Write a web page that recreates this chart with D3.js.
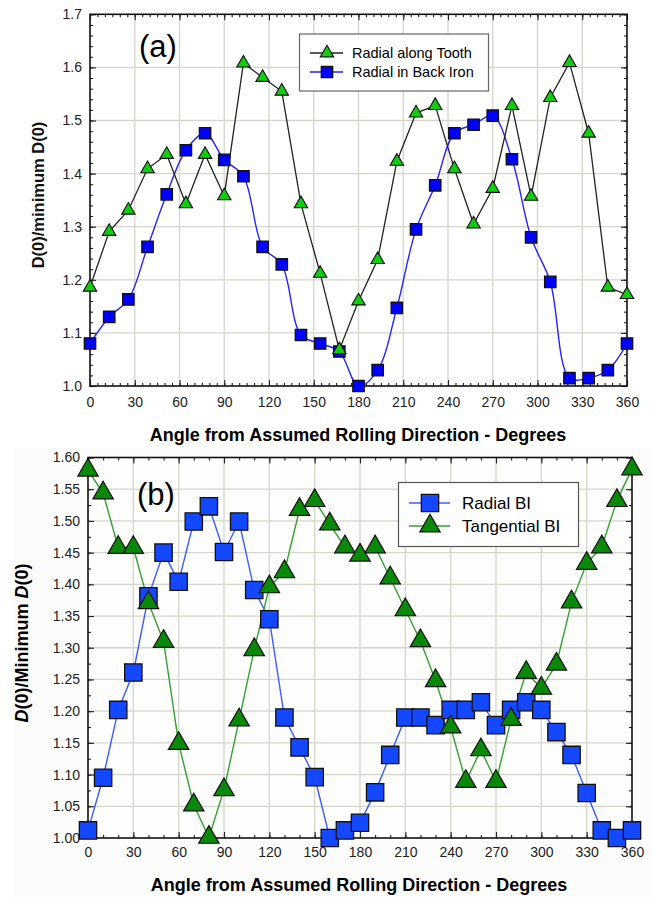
<!DOCTYPE html>
<html>
<head>
<meta charset="utf-8">
<script src="https://cdn.jsdelivr.net/npm/d3@7"></script>
<style>
  body { margin: 0; background: #fff; }
  svg { display: block; font-family: "Liberation Sans", Arial, sans-serif; }
</style>
</head>
<body>
<div id="chart"></div>
<script>
// panel (a) - 29 positions around the stator
var anglesA = [0, 12.86, 25.71, 38.57, 51.43, 64.29, 77.14, 90, 102.86, 115.71, 128.57, 141.43, 154.29, 167.14,
  180, 192.86, 205.71, 218.57, 231.43, 244.29, 257.14, 270, 282.86, 295.71, 308.57, 321.43, 334.29, 347.14, 360]
var toothA = [1.186, 1.291, 1.331, 1.409, 1.436, 1.343, 1.436, 1.358, 1.608, 1.581, 1.555, 1.343, 1.212, 1.068,
  1.160, 1.238, 1.423, 1.514, 1.528, 1.409, 1.305, 1.372, 1.528, 1.357, 1.543, 1.609, 1.476, 1.186, 1.172]
var backIronA = [1.080, 1.130, 1.163, 1.262, 1.361, 1.444, 1.476, 1.426, 1.395, 1.262, 1.229, 1.096, 1.080, 1.065,
  1.000, 1.030, 1.147, 1.295, 1.378, 1.476, 1.492, 1.509, 1.427, 1.280, 1.196, 1.015, 1.015, 1.030, 1.080]
var xTicksA = [0, 30, 60, 90, 120, 150, 180, 210, 240, 270, 300, 330, 360]
var yTicksA = [1.0, 1.1, 1.2, 1.3, 1.4, 1.5, 1.6, 1.7]

// panel (b) - every 10 degrees
var anglesB = [0, 10, 20, 30, 40, 50, 60, 70, 80, 90, 100, 110, 120, 130, 140, 150, 160, 170, 180,
  190, 200, 210, 220, 230, 240, 250, 260, 270, 280, 290, 300, 310, 320, 330, 340, 350, 360]
var radialB = [1.012, 1.095, 1.202, 1.261, 1.381, 1.450, 1.404, 1.499, 1.523, 1.451, 1.499, 1.391, 1.345, 1.190,
  1.143, 1.096, 1.000, 1.012, 1.024, 1.072, 1.131, 1.190, 1.190, 1.178, 1.202, 1.202, 1.214, 1.178, 1.202,
  1.214, 1.202, 1.167, 1.131, 1.071, 1.012, 1.000, 1.012]
var tangentialB = [1.580, 1.544, 1.458, 1.458, 1.371, 1.310, 1.149, 1.052, 1.001, 1.076, 1.186, 1.297, 1.396, 1.420,
  1.518, 1.532, 1.495, 1.459, 1.446, 1.459, 1.410, 1.360, 1.311, 1.248, 1.175, 1.089, 1.139, 1.089, 1.187,
  1.261, 1.236, 1.274, 1.372, 1.433, 1.459, 1.532, 1.582]
var xTicksB = xTicksA
var yTicksB = [1.00, 1.05, 1.10, 1.15, 1.20, 1.25, 1.30, 1.35, 1.40, 1.45, 1.50, 1.55, 1.60]

var width = 652
var height = 897

var svg = d3.select('#chart').append('svg')
  .attr('width', width)
  .attr('height', height)

// faint scanned tint behind the lower figure
svg.append('rect')
  .attr('x', 14).attr('y', 448)
  .attr('width', width - 14).attr('height', height - 448)
  .attr('fill', '#fcfcfa')

function frame(g, x, y, opts){
  var x0 = x.range()[0], x1 = x.range()[1]
  var y0 = y.range()[0], y1 = y.range()[1]

  g.append('rect')
    .attr('x', x0).attr('y', y1)
    .attr('width', x1 - x0).attr('height', y0 - y1)
    .attr('fill', opts.bg)

  // grid
  g.append('g').selectAll('line.gx')
    .data(opts.xTicks.slice(1, -1))
    .enter().append('line')
    .attr('x1', function(d){ return x(d) }).attr('x2', function(d){ return x(d) })
    .attr('y1', y1).attr('y2', y0)
    .attr('stroke', '#d5d5cc').attr('stroke-width', 1.3)
  g.append('g').selectAll('line.gy')
    .data(opts.yTicks.slice(1, -1))
    .enter().append('line')
    .attr('y1', function(d){ return y(d) }).attr('y2', function(d){ return y(d) })
    .attr('x1', x0).attr('x2', x1)
    .attr('stroke', '#d5d5cc').attr('stroke-width', 1.3)

  var xMinor = d3.range(0, 360.001, opts.xMinorStep)
  var yMinor = d3.range(opts.yTicks[0], opts.yTicks[opts.yTicks.length - 1] + 1e-6, opts.yMinorStep)

  var axes = [
    {a: d3.axisBottom(x).tickValues(opts.xTicks).tickSize(-6).tickPadding(opts.xPad).tickFormat(d3.format('d')), t: 'translate(0,' + y0 + ')'},
    {a: d3.axisBottom(x).tickValues(xMinor).tickSize(-3).tickFormat(''), t: 'translate(0,' + y0 + ')'},
    {a: d3.axisTop(x).tickValues(opts.xTicks).tickSize(-6).tickFormat(''), t: 'translate(0,' + y1 + ')'},
    {a: d3.axisTop(x).tickValues(xMinor).tickSize(-3).tickFormat(''), t: 'translate(0,' + y1 + ')'},
    {a: d3.axisLeft(y).tickValues(opts.yTicks).tickSize(-6).tickPadding(8).tickFormat(d3.format(opts.yFormat)), t: 'translate(' + x0 + ',0)'},
    {a: d3.axisLeft(y).tickValues(yMinor).tickSize(-3).tickFormat(''), t: 'translate(' + x0 + ',0)'},
    {a: d3.axisRight(y).tickValues(opts.yTicks).tickSize(-6).tickFormat(''), t: 'translate(' + x1 + ',0)'},
    {a: d3.axisRight(y).tickValues(yMinor).tickSize(-3).tickFormat(''), t: 'translate(' + x1 + ',0)'}
  ]
  axes.forEach(function(ax){
    var sel = g.append('g').attr('transform', ax.t).call(ax.a)
    sel.select('.domain').remove()
    sel.selectAll('line').attr('stroke', '#222').attr('stroke-width', 1.1)
    sel.selectAll('text')
      .attr('fill', '#222')
      .style('font-size', '14px')
      .style('font-family', '"Liberation Sans", Arial, sans-serif')
  })

  g.append('rect')
    .attr('x', x0).attr('y', y1)
    .attr('width', x1 - x0).attr('height', y0 - y1)
    .attr('fill', 'none')
    .attr('stroke', '#111').attr('stroke-width', 1.6)
}

// ---------- panel (a) ----------
var xA = d3.scaleLinear().domain([0, 360]).range([90, 627])
var yA = d3.scaleLinear().domain([1.0, 1.7]).range([386, 14.3])
var gA = svg.append('g')

frame(gA, xA, yA, {xTicks: xTicksA, yTicks: yTicksA, xMinorStep: 5, yMinorStep: 0.02,
  yFormat: '.1f', xPad: 11, bg: '#ffffff'})

svg.append('clipPath').attr('id', 'clipA').append('rect')
  .attr('x', 90).attr('y', 14.3).attr('width', 537).attr('height', 386 - 14.3)

var lineA = d3.line()
  .x(function(d, i){ return xA(anglesA[i]) })
  .y(function(d){ return yA(d) })

gA.append('path')
  .datum(backIronA)
  .attr('clip-path', 'url(#clipA)')
  .attr('fill', 'none')
  .attr('stroke', '#2424ff').attr('stroke-width', 1.4)
  .attr('d', lineA.curve(d3.curveCatmullRom.alpha(0.5)))

gA.append('path')
  .datum(toothA)
  .attr('fill', 'none')
  .attr('stroke', '#222').attr('stroke-width', 1.3)
  .attr('d', lineA.curve(d3.curveLinear))

var triA = d3.symbol(d3.symbolTriangle, 78)
var sqA = d3.symbol(d3.symbolSquare, 130)

gA.append('g').selectAll('path')
  .data(backIronA)
  .enter().append('path')
  .attr('transform', function(d, i){ return 'translate(' + xA(anglesA[i]) + ',' + yA(d) + ')' })
  .attr('d', sqA)
  .attr('fill', '#0000ff').attr('stroke', '#111').attr('stroke-width', 1.3)

gA.append('g').selectAll('path')
  .data(toothA)
  .enter().append('path')
  .attr('transform', function(d, i){ return 'translate(' + xA(anglesA[i]) + ',' + yA(d) + ')' })
  .attr('d', triA)
  .attr('fill', '#11cc11').attr('stroke', '#111').attr('stroke-width', 1.1)

gA.append('text')
  .attr('x', 139).attr('y', 57)
  .style('font-size', '31px')
  .text('(a)')

// legend (a)
var legA = gA.append('g')
legA.append('rect')
  .attr('x', 299.5).attr('y', 34).attr('width', 189).attr('height', 57)
  .attr('fill', '#fff').attr('stroke', '#666').attr('stroke-width', 1.2)
legA.append('line').attr('x1', 310).attr('x2', 343).attr('y1', 53).attr('y2', 53)
  .attr('stroke', '#222').attr('stroke-width', 1.3)
legA.append('path').attr('transform', 'translate(327,53)').attr('d', triA)
  .attr('fill', '#11cc11').attr('stroke', '#111').attr('stroke-width', 1.1)
legA.append('line').attr('x1', 310).attr('x2', 343).attr('y1', 72).attr('y2', 72)
  .attr('stroke', '#2424ff').attr('stroke-width', 1.4)
legA.append('path').attr('transform', 'translate(327,72)').attr('d', sqA)
  .attr('fill', '#0000ff').attr('stroke', '#111').attr('stroke-width', 1.3)
legA.append('text').attr('x', 352).attr('y', 58).style('font-size', '14.5px').text('Radial along Tooth')
legA.append('text').attr('x', 352).attr('y', 77).style('font-size', '14.5px').text('Radial in Back Iron')

gA.append('text')
  .attr('x', 358).attr('y', 441)
  .attr('text-anchor', 'middle')
  .style('font-size', '18px').style('font-weight', 'bold')
  .text('Angle from Assumed Rolling Direction - Degrees')

gA.append('text')
  .attr('transform', 'translate(44,195) rotate(-90)')
  .attr('text-anchor', 'middle')
  .style('font-size', '16.5px')
  .style('font-weight', 'bold')
  .attr('fill', '#111')
  .text('D(0)/minimum D(0)')

// ---------- panel (b) ----------
var xB = d3.scaleLinear().domain([0, 360]).range([88, 632])
var yB = d3.scaleLinear().domain([1.0, 1.6]).range([838, 457.5])
var gB = svg.append('g')

frame(gB, xB, yB, {xTicks: xTicksB, yTicks: yTicksB, xMinorStep: 10, yMinorStep: 0.025,
  yFormat: '.2f', xPad: 9, bg: '#fdfdfc'})

var lineB = d3.line()
  .x(function(d, i){ return xB(anglesB[i]) })
  .y(function(d){ return yB(d) })

gB.append('path')
  .datum(radialB)
  .attr('fill', 'none')
  .attr('stroke', '#3a5cff').attr('stroke-width', 1.4)
  .attr('d', lineB)

gB.append('path')
  .datum(tangentialB)
  .attr('fill', 'none')
  .attr('stroke', '#33a033').attr('stroke-width', 1.4)
  .attr('d', lineB)

var triB = d3.symbol(d3.symbolTriangle, 180)
var sqB = d3.symbol(d3.symbolSquare, 300)

gB.append('g').selectAll('path')
  .data(radialB)
  .enter().append('path')
  .attr('transform', function(d, i){ return 'translate(' + xB(anglesB[i]) + ',' + yB(d) + ')' })
  .attr('d', sqB)
  .attr('fill', '#1448ff').attr('stroke', '#111').attr('stroke-width', 1.3)

gB.append('g').selectAll('path')
  .data(tangentialB)
  .enter().append('path')
  .attr('transform', function(d, i){ return 'translate(' + xB(anglesB[i]) + ',' + yB(d) + ')' })
  .attr('d', triB)
  .attr('fill', '#0a880a').attr('stroke', '#111').attr('stroke-width', 1.2)

gB.append('text')
  .attr('x', 137).attr('y', 505)
  .style('font-size', '31px')
  .text('(b)')

// legend (b)
var legB = gB.append('g')
legB.append('rect')
  .attr('x', 398.5).attr('y', 482.5).attr('width', 180).attr('height', 64)
  .attr('fill', '#fff').attr('stroke', '#555').attr('stroke-width', 1.2)
legB.append('line').attr('x1', 409).attr('x2', 450).attr('y1', 503).attr('y2', 503)
  .attr('stroke', '#3a5cff').attr('stroke-width', 1.4)
legB.append('path').attr('transform', 'translate(430,503)').attr('d', sqB)
  .attr('fill', '#1448ff').attr('stroke', '#111').attr('stroke-width', 1.3)
legB.append('line').attr('x1', 409).attr('x2', 450).attr('y1', 526).attr('y2', 526)
  .attr('stroke', '#33a033').attr('stroke-width', 1.4)
legB.append('path').attr('transform', 'translate(430,526)').attr('d', triB)
  .attr('fill', '#0a880a').attr('stroke', '#111').attr('stroke-width', 1.2)
legB.append('text').attr('x', 462).attr('y', 509).style('font-size', '17px').text('Radial BI')
legB.append('text').attr('x', 462).attr('y', 532).style('font-size', '17px').text('Tangential BI')

gB.append('text')
  .attr('x', 359).attr('y', 891)
  .attr('text-anchor', 'middle')
  .style('font-size', '18px').style('font-weight', 'bold')
  .text('Angle from Assumed Rolling Direction - Degrees')

var yTitleB = gB.append('text')
  .attr('transform', 'translate(28,643) rotate(-90)')
  .attr('text-anchor', 'middle')
  .style('font-size', '18px').style('font-weight', 'bold')
yTitleB.append('tspan').style('font-style', 'italic').text('D')
yTitleB.append('tspan').text('(0)/Minimum ')
yTitleB.append('tspan').style('font-style', 'italic').text('D')
yTitleB.append('tspan').text('(0)')
</script>
</body>
</html>
